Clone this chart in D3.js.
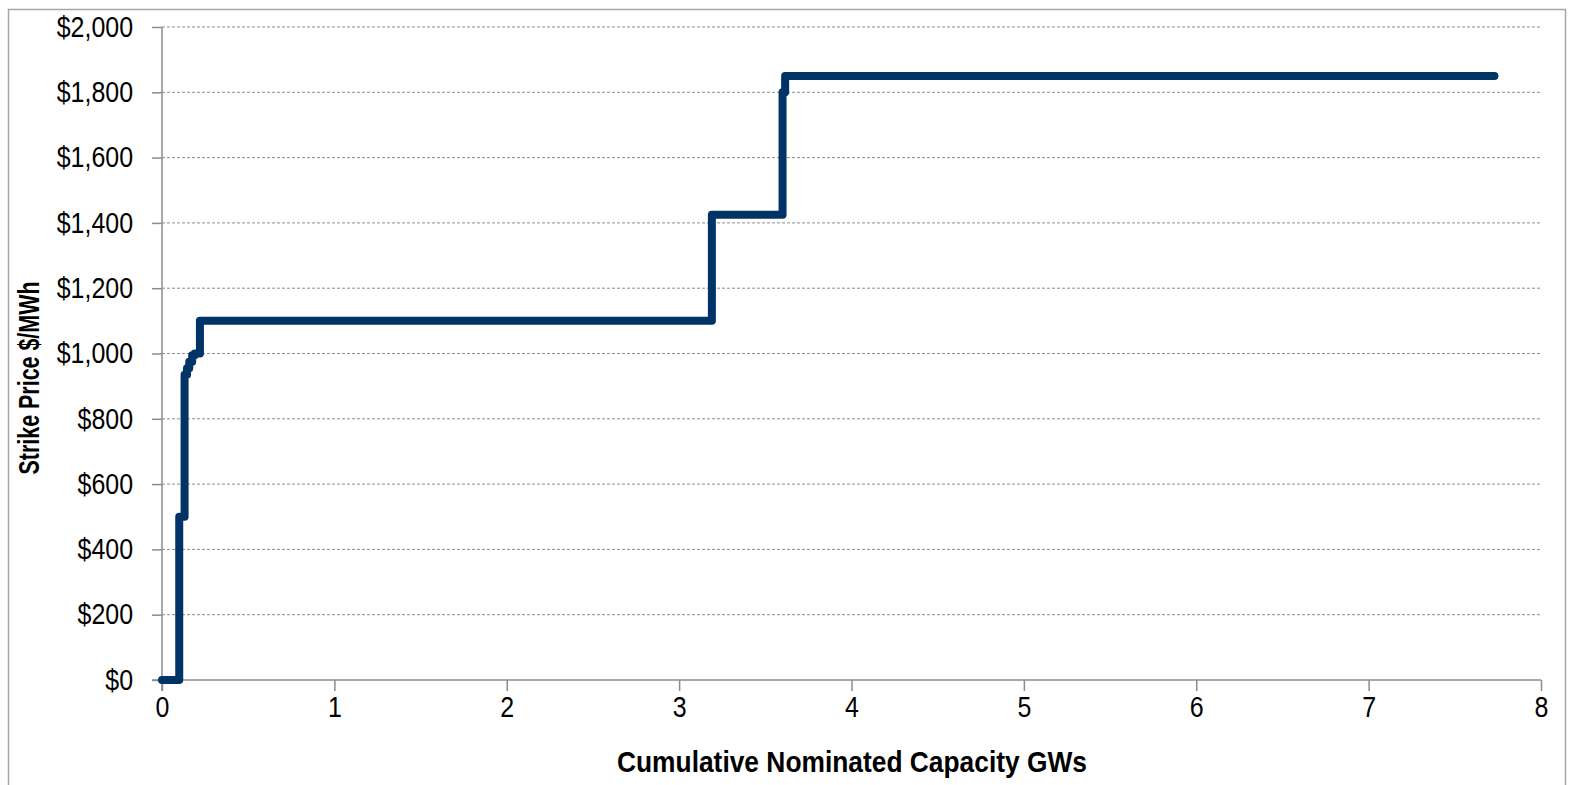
<!DOCTYPE html>
<html>
<head>
<meta charset="utf-8">
<script src="https://cdn.jsdelivr.net/npm/d3@7"></script>
<style>
  body { margin: 0; background: #fff; }
  text { font-family: "Liberation Sans", Arial, sans-serif; fill: #000; }
</style>
</head>
<body>
<svg id="svg"></svg>
<script>
// cumulative capacity (GW) where each strike price step starts
const capacity = [0, 0.10, 0.131, 0.145, 0.158, 0.175, 0.19, 0.22, 3.19, 3.60, 3.615, 7.73]
// strike price ($/MWh) from that point on
const price = [0, 500, 935, 955, 975, 995, 1000, 1100, 1425, 1800, 1850, 1850]

const xTicks = [0, 1, 2, 3, 4, 5, 6, 7, 8]
const yTicks = [0, 200, 400, 600, 800, 1000, 1200, 1400, 1600, 1800, 2000]

const W = 1572, H = 785
const svg = d3.select("#svg").attr("width", W).attr("height", H)

// chart frame
svg.append("rect")
    .attr("x", 8.5).attr("y", 9.5)
    .attr("width", 1557).attr("height", 790)
    .attr("fill", "none")
    .attr("stroke", "#a6a6a6")
    .attr("stroke-width", 1.5)

const x = d3.scaleLinear().domain([0, 8]).range([162, 1541])
const y = d3.scaleLinear().domain([0, 2000]).range([680, 27])

// horizontal dashed gridlines
svg.append("g")
    .selectAll("line")
    .data(yTicks.filter(d => d > 0))
    .join("line")
    .attr("x1", x(0)).attr("x2", x(8))
    .attr("y1", d => y(d)).attr("y2", d => y(d))
    .attr("stroke", "#8c8c8c")
    .attr("stroke-width", 1)
    .attr("stroke-dasharray", "3,2")

// squeeze label glyphs a bit like the original
function narrow(sel, k) {
    sel.selectAll("text").each(function () {
        const w = this.getComputedTextLength()
        this.setAttribute("textLength", w * k)
        this.setAttribute("lengthAdjust", "spacingAndGlyphs")
    })
}

const yAxis = svg.append("g")
    .attr("transform", `translate(${x(0)},0)`)
    .call(d3.axisLeft(y).tickValues(yTicks).tickSize(10).tickPadding(19)
        .tickFormat(d => "$" + d3.format(",")(d)))
yAxis.selectAll("text").style("font-size", "29px")
narrow(yAxis, 0.86)

const xAxis = svg.append("g")
    .attr("transform", `translate(0,${y(0)})`)
    .call(d3.axisBottom(x).tickValues(xTicks).tickSize(11).tickPadding(5))
xAxis.selectAll("text").style("font-size", "29px")
narrow(xAxis, 0.86)

svg.selectAll(".domain").remove()
svg.selectAll(".tick line").attr("stroke", "#8c8c8c").attr("stroke-width", 1.5)

// axis lines
svg.append("line")
    .attr("x1", x(0)).attr("x2", x(0))
    .attr("y1", y(2000)).attr("y2", y(0) + 11)
    .attr("stroke", "#8c8c8c").attr("stroke-width", 1.5)
svg.append("line")
    .attr("x1", x(0) - 10).attr("x2", x(8))
    .attr("y1", y(0)).attr("y2", y(0))
    .attr("stroke", "#8c8c8c").attr("stroke-width", 1.5)

// step curve
const pts = capacity.map((c, i) => [c, price[i]])
const line = d3.line()
    .x(d => x(d[0]))
    .y(d => y(d[1]))
    .curve(d3.curveStepAfter)

svg.append("path")
    .attr("d", line(pts))
    .attr("fill", "none")
    .attr("stroke", "#003366")
    .attr("stroke-width", 8)
    .attr("stroke-linejoin", "round")
    .attr("stroke-linecap", "round")

// axis titles
svg.append("text")
    .attr("x", 852).attr("y", 772)
    .attr("text-anchor", "middle")
    .attr("textLength", 470)
    .attr("lengthAdjust", "spacingAndGlyphs")
    .style("font-size", "30px")
    .style("font-weight", "bold")
    .text("Cumulative Nominated Capacity GWs")

svg.append("text")
    .attr("transform", "translate(39,378) rotate(-90)")
    .attr("text-anchor", "middle")
    .attr("textLength", 193)
    .attr("lengthAdjust", "spacingAndGlyphs")
    .style("font-size", "29px")
    .style("font-weight", "bold")
    .text("Strike Price $/MWh")
</script>
</body>
</html>
